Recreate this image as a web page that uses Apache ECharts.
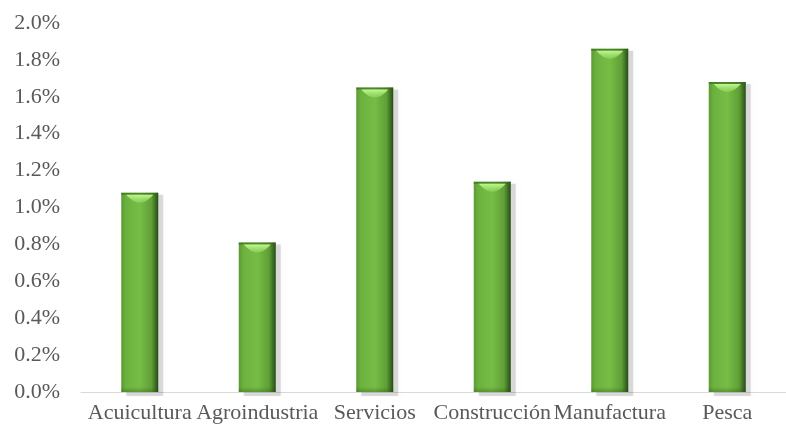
<!DOCTYPE html>
<html>
<head>
<meta charset="utf-8">
<script src="https://cdn.jsdelivr.net/npm/echarts@6/dist/echarts.min.js"></script>
<style>html,body{margin:0;padding:0;background:#fff;}#c{width:786px;height:427px;}</style>
</head>
<body>
<div id="c"></div>
<script>
var categories = ['Acuicultura', 'Agroindustria', 'Servicios', 'Construcción', 'Manufactura', 'Pesca'];
var values = [1.08, 0.81, 1.65, 1.14, 1.86, 1.68];
var yTicks = { min: 0, max: 2, interval: 0.2 };

var chart = echarts.init(document.getElementById('c'), null, { renderer: 'canvas' });
var textStyle = { fontFamily: 'Liberation Serif', fontSize: 22, color: '#595959' };

function renderBar(params, api) {
  var i = api.value(0);
  var v = api.value(1);
  var top = api.coord([i, v]);
  var base = api.coord([i, 0]);
  var w = 37;
  var x = top[0] - w / 2;
  var y = top[1];
  var h = base[1] - top[1];
  return {
    type: 'group',
    children: [
      { type: 'rect', shape: { x: x + 5, y: y + 2, width: w, height: h + 2 },
        style: { fill: 'rgba(0,0,0,0.13)', shadowBlur: 4, shadowColor: 'rgba(0,0,0,0.2)' } },
      { type: 'rect', shape: { x: x, y: y, width: w, height: h },
        style: { fill: { type: 'linear', x: 0, y: 0, x2: 1, y2: 0, colorStops: [
          { offset: 0, color: '#5b9a33' }, { offset: 0.12, color: '#6cb13f' },
          { offset: 0.5, color: '#76bd46' }, { offset: 0.82, color: '#5f9f36' },
          { offset: 0.92, color: '#3f7222' }, { offset: 1, color: '#27491a' } ] } } },
      { type: 'rect', shape: { x: x, y: y, width: w, height: 2 },
        style: { fill: 'rgba(50,100,25,0.6)' } },
      { type: 'path', shape: { pathData: 'M0,0 Q18,20 36,0 Z', x: x + 5, y: y + 2, width: w - 10, height: 8, layout: 'cover' },
        style: { fill: { type: 'linear', x: 0, y: 0, x2: 0, y2: 1, colorStops: [
          { offset: 0, color: 'rgba(200,250,150,0.95)' }, { offset: 1, color: 'rgba(150,225,100,0.5)' } ] } } },
      { type: 'rect', shape: { x: x, y: base[1] - 5, width: w, height: 5 },
        style: { fill: { type: 'linear', x: 0, y: 0, x2: 0, y2: 1, colorStops: [
          { offset: 0, color: 'rgba(40,80,20,0)' }, { offset: 1, color: 'rgba(40,80,20,0.35)' } ] } } }
    ]
  };
}

chart.setOption({
  backgroundColor: '#ffffff',
  animation: false,
  grid: { left: 81, top: 23, width: 715, height: 369, containLabel: false },
  xAxis: {
    type: 'category',
    data: categories,
    axisLine: { show: true, lineStyle: { color: '#d9d9d9', width: 1 } },
    axisTick: { show: false },
    axisLabel: Object.assign({ margin: 10, interval: 0 }, textStyle)
  },
  yAxis: {
    type: 'value',
    min: yTicks.min, max: yTicks.max, interval: yTicks.interval,
    axisLine: { show: false },
    axisTick: { show: false },
    splitLine: { show: false },
    axisLabel: Object.assign({ margin: 21, formatter: function (v) { return v.toFixed(1) + '%'; } }, textStyle)
  },
  series: [{
    type: 'custom',
    renderItem: renderBar,
    encode: { x: 0, y: 1 },
    data: values.map(function (v, i) { return [i, v]; }),
    clip: false
  }]
});
</script>
</body>
</html>
